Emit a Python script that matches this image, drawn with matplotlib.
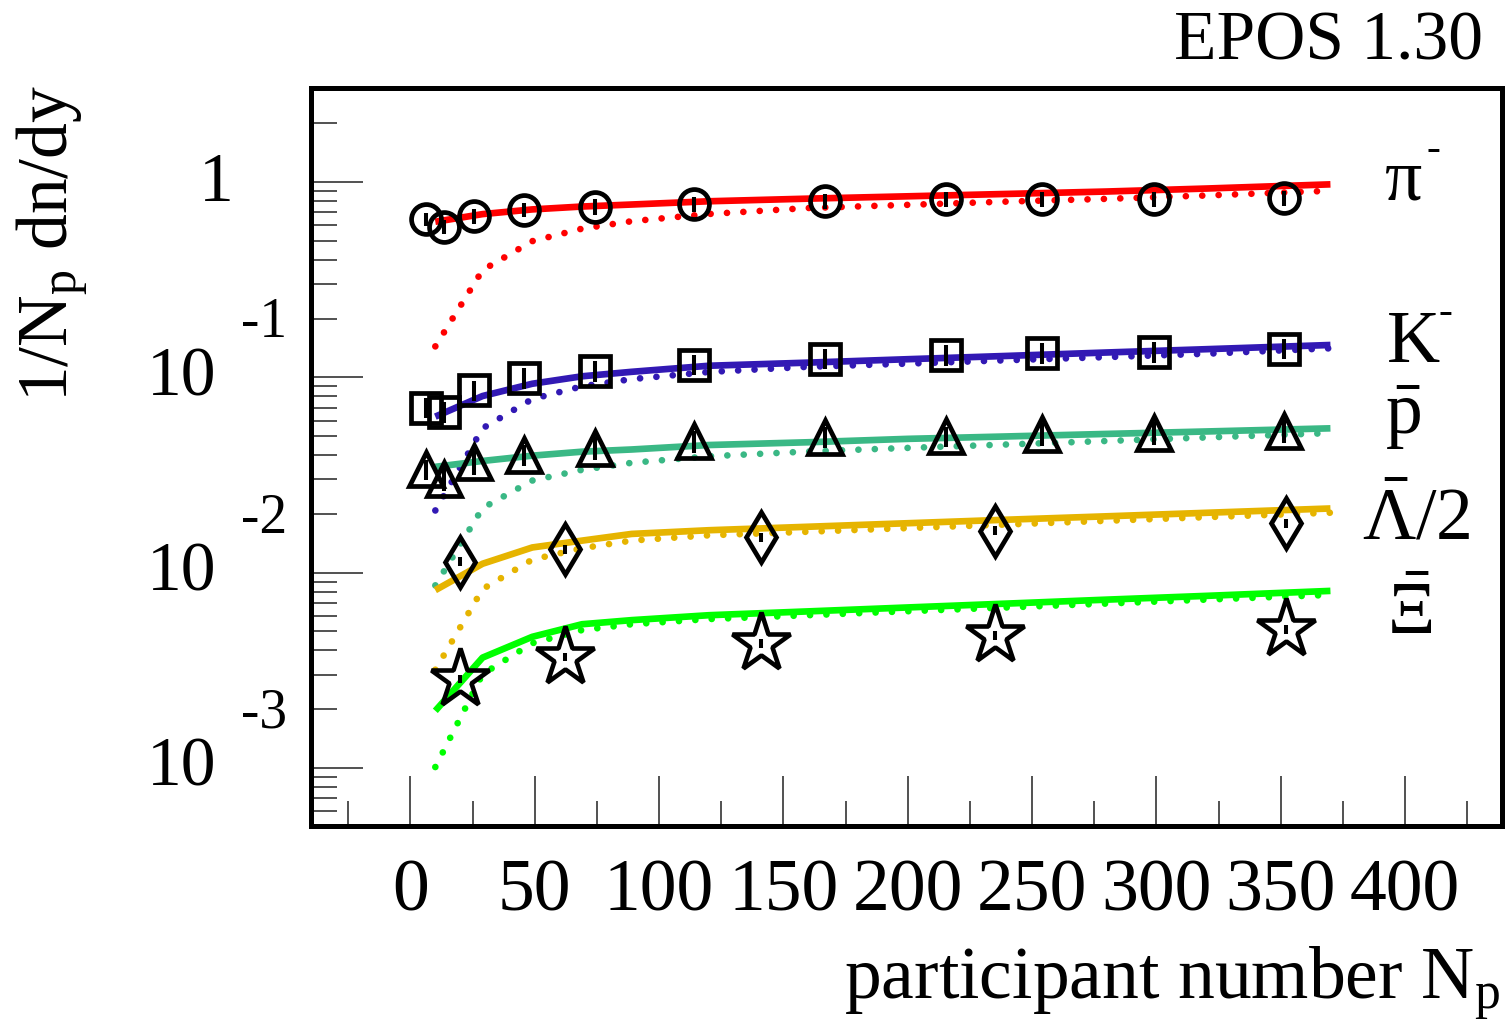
import numpy as np
import matplotlib
matplotlib.use('Agg')
import matplotlib.pyplot as plt
import matplotlib.transforms as mtrans
from matplotlib.ticker import FixedLocator, NullFormatter

plt.rcParams['font.family'] = ['Liberation Serif', 'DejaVu Serif']
plt.rcParams['mathtext.fontset'] = 'custom'
plt.rcParams['mathtext.rm'] = 'Liberation Serif'
plt.rcParams['mathtext.it'] = 'Liberation Serif:italic'
plt.rcParams['mathtext.default'] = 'regular'

# ---------------- data ----------------
npart_phenix = [6.3, 13.4, 25.7, 45.5, 74.4, 114.2, 166.6, 215.3, 253.9, 299.0, 351.4]
pim_data = [0.644, 0.590, 0.669, 0.719, 0.747, 0.771, 0.799, 0.818, 0.818, 0.815, 0.825]
pim_err = [0.05, 0.05, 0.06, 0.06, 0.07, 0.07, 0.07, 0.07, 0.07, 0.07, 0.07]
km_data = [0.0699, 0.0664, 0.0858, 0.0996, 0.1077, 0.1162, 0.1247, 0.1297, 0.1332, 0.1348, 0.1404]
km_err = [0.008, 0.008, 0.010, 0.012, 0.013, 0.014, 0.015, 0.016, 0.016, 0.016, 0.017]
pbar_data = [0.0338, 0.0302, 0.0367, 0.0402, 0.0437, 0.0471, 0.0496, 0.0499, 0.0514, 0.0518, 0.0533]
pbar_err = [0.004, 0.004, 0.005, 0.005, 0.006, 0.006, 0.006, 0.006, 0.007, 0.007, 0.007]

npart_star = [20, 62, 141, 235, 352]
lam_data = [0.01139, 0.01322, 0.01517, 0.01642, 0.01790]
lam_err = [0.0006, 0.0007, 0.0008, 0.0009, 0.0010]
xi_data = [0.00286, 0.00371, 0.00435, 0.00477, 0.00513]
xi_err = [0.00014, 0.00018, 0.00022, 0.00024, 0.00026]

model_np = [10, 29, 49, 69, 89, 120, 160, 200, 240, 280, 320, 370]
pim_solid = [0.626, 0.685, 0.724, 0.749, 0.767, 0.797, 0.822, 0.845, 0.869, 0.894, 0.926, 0.973]
pim_dotted = [0.144, 0.354, 0.498, 0.577, 0.630, 0.686, 0.736, 0.764, 0.794, 0.820, 0.853, 0.902]
km_solid = [0.0629, 0.0802, 0.0927, 0.1012, 0.1067, 0.1146, 0.1189, 0.1238, 0.1287, 0.1340, 0.1393, 0.1464]
km_dotted = [0.0208, 0.0548, 0.0774, 0.0899, 0.0979, 0.1065, 0.1132, 0.1175, 0.1223, 0.1269, 0.1320, 0.1408]
pbar_solid = [0.0348, 0.0373, 0.0397, 0.0416, 0.0427, 0.0450, 0.0465, 0.0484, 0.0498, 0.0513, 0.0528, 0.0548]
pbar_dotted = [0.0086, 0.0214, 0.0296, 0.0336, 0.0365, 0.0394, 0.0417, 0.0435, 0.0453, 0.0472, 0.0492, 0.0518]
lam_solid = [0.00813, 0.01110, 0.01345, 0.01458, 0.01578, 0.01648, 0.01717, 0.01790, 0.01866, 0.01942, 0.02024, 0.02130]
lam_dotted = [0.00318, 0.00823, 0.01166, 0.01333, 0.01459, 0.01552, 0.01619, 0.01690, 0.01763, 0.01842, 0.01922, 0.02026]
xi_solid = [0.00196, 0.00367, 0.00469, 0.00544, 0.00571, 0.00605, 0.00633, 0.00663, 0.00694, 0.00727, 0.00760, 0.00806]
xi_dotted = [0.00101, 0.00302, 0.00435, 0.00508, 0.00544, 0.00578, 0.00605, 0.00634, 0.00663, 0.00694, 0.00727, 0.00769]

x_ticks = [0, 50, 100, 150, 200, 250, 300, 350, 400]
x_minor = [-25, 25, 75, 125, 175, 225, 275, 325, 375, 425]
y_exponents = [-1, -2, -3]

# ---------------- figure ----------------
W, H = 1506, 1031
fig = plt.figure(figsize=(W / 100, H / 100), dpi=100)
fig.patch.set_facecolor('white')
ax = fig.add_axes([311 / W, 1 - 826 / H, (1502 - 311) / W, (826 - 88) / H])
ax.set_yscale('log')
ax.set_xlim(-40, 439)
ax.set_ylim(5.04e-4, 3.03)

for s in ax.spines.values():
    s.set_linewidth(3.6)
    s.set_color('black')

C_PI = '#ff0000'
C_K = '#3219b4'
C_P = '#3ab885'
C_L = '#e6b400'
C_XI = '#00ff00'

lw = 4.8
dot_style = (0, (0.01, 2.45))
series = [
    (pim_solid, pim_dotted, C_PI),
    (km_solid, km_dotted, C_K),
    (pbar_solid, pbar_dotted, C_P),
    (lam_solid, lam_dotted, C_L),
    (xi_solid, xi_dotted, C_XI),
]
for solid, dotted, col in series:
    ax.plot(model_np, dotted, color=col, lw=lw, linestyle=dot_style,
            dash_capstyle='round', zorder=2)
for solid, dotted, col in series:
    ax.plot(model_np, solid, color=col, lw=lw, solid_capstyle='butt', zorder=3)

mew = 3.4
ekw = dict(linestyle='none', mfc='none', mec='black', mew=mew, ecolor='black',
           elinewidth=2.9, capsize=0, zorder=5)
ax.errorbar(npart_phenix, pim_data, yerr=pim_err, marker='o', ms=21.5, **ekw)
ax.errorbar(npart_phenix, km_data, yerr=km_err, marker='s', ms=22, **ekw)
ax.errorbar(npart_phenix, pbar_data, yerr=pbar_err, marker='^', ms=25, **ekw)
ax.errorbar(npart_star, lam_data, yerr=lam_err, marker='d', ms=25, **ekw)
ax.errorbar(npart_star, xi_data, yerr=xi_err, marker='*', ms=44, **dict(ekw, mew=3.3))

# ticks
ax.xaxis.set_major_locator(FixedLocator(x_ticks))
ax.xaxis.set_minor_locator(FixedLocator(x_minor))
ax.set_xticklabels([str(v) for v in x_ticks])
ax.tick_params(axis='x', which='major', direction='in', length=36, width=1.1,
               color='#222222', labelsize=53, pad=24, top=False)
ax.tick_params(axis='x', which='minor', direction='in', length=18, width=1.1,
               color='#222222', top=False)
ax.tick_params(axis='y', which='major', direction='in', length=37.5, width=1.1,
               color='#222222', right=False, labelleft=False)
ax.tick_params(axis='y', which='minor', direction='in', length=19, width=1.1,
               color='#222222', right=False, labelleft=False)
ax.yaxis.set_minor_formatter(NullFormatter())

# y tick labels drawn in ROOT style
ty = mtrans.blended_transform_factory(fig.transFigure, ax.transData)
fig.text(234 / W, 1.0, '1', transform=mtrans.offset_copy(ty, fig, y=-2, units='dots'),
         ha='right', va='center', fontsize=50)
for k in y_exponents:
    fig.text(216 / W, 10.0 ** k, '10',
             transform=mtrans.offset_copy(ty, fig, y=-1, units='dots'),
             ha='right', va='center', fontsize=50)
    fig.text(241 / W, 10.0 ** k, str(k),
             transform=mtrans.offset_copy(ty, fig, y=54, units='dots'),
             ha='left', va='center', fontsize=40)

# titles
fig.text(1483 / W, 1 - 59 / H, 'EPOS 1.30', ha='right', va='baseline', fontsize=50)
fig.text(1500 / W, 1 - 998 / H, 'participant number N$_{p}$', ha='right',
         va='baseline', fontsize=53)
fig.text(68 / W, 1 - 402 / H, '1/N$_{p}$ dn/dy', rotation=90, rotation_mode='anchor',
         ha='left', va='baseline', fontsize=51.5)

# species labels
LF = 53
fig.text(1385 / W, 1 - 200 / H, 'π', ha='left', va='baseline', fontsize=LF)
fig.text(1427 / W, 1 - 150 / H, '-', ha='left', va='center', fontsize=30)
fig.text(1387 / W, 1 - 361.5 / H, 'K', ha='left', va='baseline', fontsize=LF)
fig.text(1439 / W, 1 - 313 / H, '-', ha='left', va='center', fontsize=30)
fig.text(1385 / W, 1 - 434 / H, r'$\bar{p}$', ha='left', va='baseline', fontsize=LF)
fig.text(1362 / W, 1 - 539 / H, r'$\bar{Λ}$/2', ha='left', va='baseline', fontsize=LF)
fig.text(1387 / W, 1 - 634 / H, r'$\bar{Ξ}$', ha='left', va='baseline', fontsize=LF)

fig.savefig('out.png', dpi=100, facecolor='white')
